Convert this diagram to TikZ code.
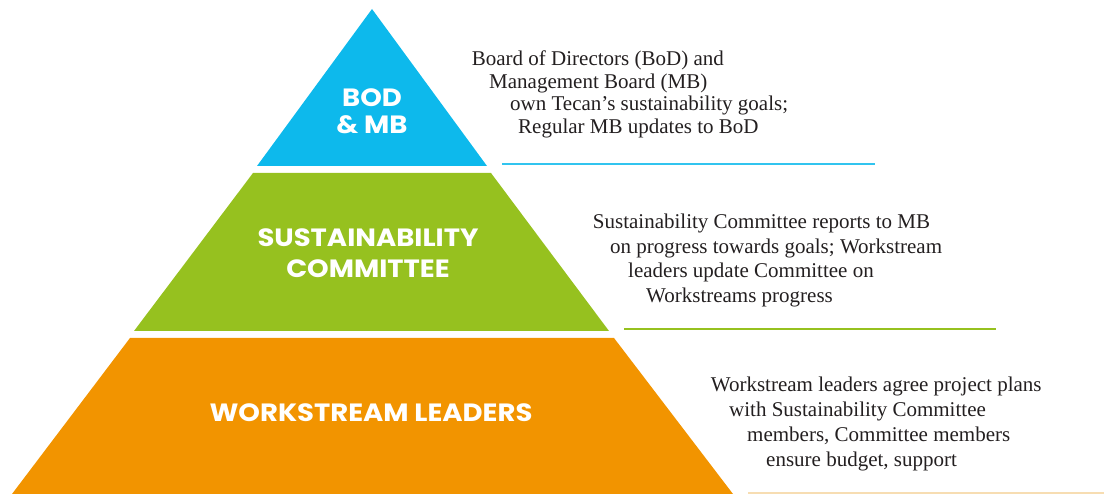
\documentclass[tikz,border=0pt]{standalone}
\usepackage{fontspec}
\setmainfont{Liberation Serif}
\newfontfamily\tierfont[FakeStretch=1.1]{Poppins}
\usetikzlibrary{positioning}
\definecolor{bodblue}{HTML}{0DB9EC}
\definecolor{scgreen}{HTML}{96C11F}
\definecolor{wsorange}{HTML}{F29400}
\definecolor{wspale}{HTML}{F7DDB2}
\definecolor{notetext}{HTML}{231F20}
\tikzset{
    pyramid/.style={
        x=1pt, y=-1pt,
        % Stile per le etichette dei livelli (bianco, sans)
        tierlabel/.style={text=white, align=center, inner sep=0pt,
                          font=\tierfont\bfseries\fontsize{25}{29}\selectfont},
        % Stile per le note a destra (serif)
        note/.style={anchor=base west, inner sep=0pt, text=notetext,
                     font=\fontsize{21}{25}\selectfont},
        % Stile per le linee sotto le note
        rule/.style={line width=2pt}
    }
}

\begin{document}
\begin{tikzpicture}[pyramid]
    \useasboundingbox (0,0) rectangle (1104,494);
    % livelli della piramide
    \fill[bodblue]  (372,9) -- (487,166) -- (257,166) -- cycle;
    \fill[scgreen]  (253,173) -- (491,173) -- (609,331) -- (134,331) -- cycle;
    \fill[wsorange] (130,338) -- (614,338) -- (733,494) -- (12,494) -- cycle;

    \node[tierlabel] (bod) at (372,111) {BOD\\[-2pt]\& MB};
    \node[tierlabel] (sc)  at (368,253) {SUSTAINABILITY\\[2pt]COMMITTEE};
    \node[tierlabel] (ws)  at (371,412.5) {WORKSTREAM LEADERS};

    % note
    \node[note] (bodA) at (471.7,65.7)  {Board of Directors (BoD) and};
    \node[note] (bodB) at (489,88.3)    {Management Board (MB)};
    \node[note] (bodC) at (510,110.7)   {own Tecan’s sustainability goals;};
    \node[note] (bodD) at (518,133.3)   {Regular MB updates to BoD};

    \node[note] (scA) at (592.7,229)  {Sustainability Committee reports to MB};
    \node[note] (scB) at (610,253.5)  {on progress towards goals; Workstream};
    \node[note] (scC) at (628,278)    {leaders update Committee on};
    \node[note] (scD) at (646,302.5)  {Workstreams progress};

    \node[note] (wsA) at (710.7,391.7) {Workstream leaders agree project plans};
    \node[note] (wsB) at (729,416.7)   {with Sustainability Committee};
    \node[note] (wsC) at (747,441.7)   {members, Committee members};
    \node[note] (wsD) at (766,466.7)   {ensure budget, support};

    % linee
    \draw[rule, bodblue!85] (502,164.5) -- (875,164.5);
    \draw[rule, scgreen]    (624,329.3) -- (996,329.3);
    \draw[rule, wspale]     (748,493)   -- (1104,493);
\end{tikzpicture}
\end{document}
